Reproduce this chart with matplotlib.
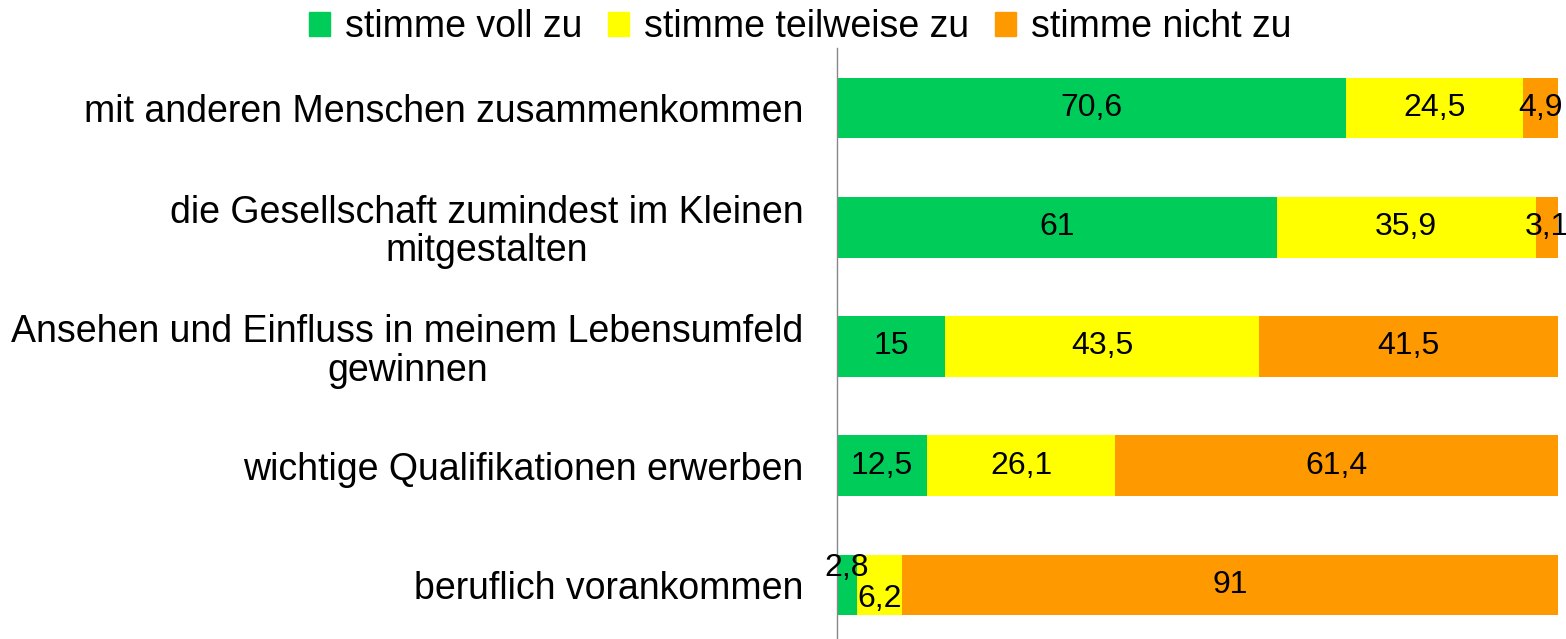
import matplotlib.pyplot as plt
from matplotlib.patches import Patch

plt.rcParams['font.family'] = ['Liberation Sans', 'DejaVu Sans']

# Data
categories = [
    'mit anderen Menschen zusammenkommen',
    'die Gesellschaft zumindest im Kleinen\nmitgestalten',
    'Ansehen und Einfluss in meinem Lebensumfeld\ngewinnen',
    'wichtige Qualifikationen erwerben',
    'beruflich vorankommen',
]
voll = [70.6, 61, 15, 12.5, 2.8]
teilweise = [24.5, 35.9, 43.5, 26.1, 6.2]
nicht = [4.9, 3.1, 41.5, 61.4, 91]
series_names = ['stimme voll zu', 'stimme teilweise zu', 'stimme nicht zu']
colors = ['#00CC5A', '#FFFF00', '#FF9900']

fig = plt.figure(figsize=(15.66, 6.39), dpi=100)
ax = fig.add_axes([0.5345, -0.0088, 0.4604, 0.9331])

ypos = list(range(len(categories)))
lefts = [0] * len(categories)
for vals, col in zip([voll, teilweise, nicht], colors):
    bars = ax.barh(ypos, vals, left=lefts, height=0.51, color=col)
    for i, (b, v) in enumerate(zip(bars, vals)):
        txt = str(v).replace('.', ',')
        dy = 0
        if v == 2.8:
            dy = -0.14
        elif v == 6.2:
            dy = 0.12
        ax.text(b.get_x() + b.get_width() / 2, ypos[i] + dy, txt,
                ha='center', va='center', fontsize=23, color='black')
    lefts = [l + v for l, v in zip(lefts, vals)]

ax.set_xlim(0, 100)
ax.set_ylim(len(categories) - 0.5, -0.5)
ax.set_yticks(ypos)
ax.set_yticklabels(categories, fontsize=27, ha='right', multialignment='center',
                   linespacing=1.08)
ax.tick_params(axis='y', length=0, pad=24)
ax.set_xticks([])
for s in ['top', 'right', 'bottom']:
    ax.spines[s].set_visible(False)
ax.spines['left'].set_color('#888888')
ax.spines['left'].set_linewidth(1)

handles = [Patch(color=c, label=n) for c, n in zip(colors, series_names)]
fig.legend(handles=handles, loc='upper center', bbox_to_anchor=(0.511, 1.038),
           ncol=3, frameon=False, fontsize=27, handlelength=0.55, handleheight=0.6,
           handletextpad=0.4, columnspacing=0.7)

fig.savefig('out.png', dpi=100)
